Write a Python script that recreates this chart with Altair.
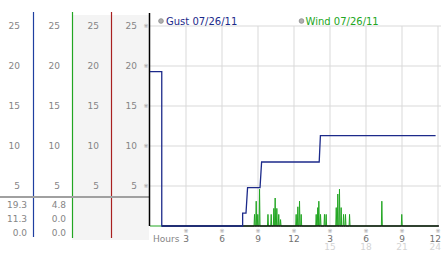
import altair as alt
import pandas as pd

# ---------------- data ----------------
tick_hours = [3, 6, 9, 12, 15, 18, 21, 24]
tick_top = ["3", "6", "9", "12", "3", "6", "9", "12"]
tick_bottom = ["", "", "", "", "15", "18", "21", "24"]
y_ticks = [5, 10, 15, 20, 25]

gust_hours = [0, 0.98, 0.98, 7.72, 7.72, 8.0, 8.13, 9.17, 9.3, 14.1, 14.2, 23.8]
gust_values = [19.3, 19.3, 0, 0, 1.6, 1.6, 4.8, 4.8, 8.0, 8.0, 11.3, 11.3]

wind_hours = [0,
              8.67, 8.71, 8.75, 8.81, 8.85, 8.89, 8.94, 8.98, 9.02, 9.09, 9.13, 9.17,
              9.79, 9.83, 9.87, 10.06, 10.10, 10.14, 10.28, 10.32, 10.36, 10.39, 10.43, 10.47,
              10.53, 10.57, 10.61, 10.69, 10.73, 10.77, 10.84, 10.88, 10.92,
              12.14, 12.18, 12.22, 12.28, 12.32, 12.36, 12.42, 12.46, 12.50, 12.56, 12.60, 12.64,
              13.81, 13.85, 13.89, 13.94, 13.98, 14.02, 14.03, 14.07, 14.11, 14.17, 14.21, 14.25,
              14.50, 14.54, 14.58, 14.64, 14.68, 14.72,
              15.48, 15.52, 15.56, 15.61, 15.65, 15.69, 15.75, 15.79, 15.83, 15.89, 15.93, 15.97,
              16.09, 16.13, 16.17, 16.25, 16.29, 16.33, 16.59, 16.63, 16.67,
              19.28, 19.32, 19.36, 20.94, 20.98, 21.02, 24]
wind_values = [0,
               0, 1.45, 0, 0, 3.1, 0, 0, 1.45, 0, 0, 4.6, 0,
               0, 1.45, 0, 0, 1.45, 0, 0, 2.2, 0, 0, 3.5, 0,
               0, 2.2, 0, 0, 1.45, 0, 0, 0.8, 0,
               0, 1.45, 0, 0, 2.4, 0, 0, 3.1, 0, 0, 1.45, 0,
               0, 1.45, 0, 0, 2.3, 0, 0, 3.1, 0, 0, 1.45, 0,
               0, 1.45, 0, 0, 1.45, 0,
               0, 2.3, 0, 0, 4.0, 0, 0, 4.6, 0, 0, 2.3, 0,
               0, 1.45, 0, 0, 1.45, 0, 0, 1.45, 0,
               0, 3.1, 0, 0, 1.45, 0, 0]

table_col1 = ["19.3", "11.3", "0.0"]
table_col2 = ["4.8", "0.0", "0.0"]

gust_label = "Gust 07/26/11"
wind_label = "Wind 07/26/11"

# ---------------- styles ----------------
FONT = "DejaVu Sans"
GREY_TXT = "#858585"
NAVY = "#1c2a8a"
GREEN = "#22a622"
BLUE = "#1f3fa0"
RED = "#a82020"
GRID = "#d9d9d9"

XS = alt.Scale(domain=[0, 24])
YS = alt.Scale(domain=[0, 26.625])

one = pd.DataFrame({"a": [0]})
gust_df = pd.DataFrame({"h": gust_hours, "v": gust_values, "i": range(len(gust_hours))})
wind_df = pd.DataFrame({"h": wind_hours, "v": wind_values, "i": range(len(wind_hours))})
yt_df = pd.DataFrame({"v": y_ticks, "t": [str(v) for v in y_ticks]})
xt_df = pd.DataFrame({"h": tick_hours, "top": tick_top, "bot": tick_bottom,
                      "y0": [0] * len(tick_hours), "y1": [25] * len(tick_hours)})
xt_main = xt_df[xt_df["h"] < 24]
xt_last = xt_df[xt_df["h"] == 24]

base_one = alt.Chart(one)

layers = []

# left column backgrounds
layers.append(base_one.mark_rect(color="#f4f4f4").encode(
    x=alt.value(-78), x2=alt.value(-1), y=alt.value(2), y2=alt.value(227)))

# horizontal gridlines
layers.append(alt.Chart(yt_df).mark_rule(color=GRID, strokeWidth=1).encode(
    y=alt.Y("v:Q", scale=YS, axis=None), x=alt.value(0), x2=alt.value(291)))

# vertical gridlines
layers.append(alt.Chart(xt_df).mark_rule(color=GRID, strokeWidth=1).encode(
    x=alt.X("h:Q", scale=XS, axis=None), y=alt.Y("y0:Q", scale=YS, axis=None), y2="y1:Q"))

# column separator lines
for xv, col, bottom in [(-116.5, BLUE, 224), (-77.5, GREEN, 225), (-38.5, RED, 225)]:
    layers.append(base_one.mark_rule(color=col, strokeWidth=1.2).encode(
        x=alt.value(xv), y=alt.value(-1), y2=alt.value(bottom)))

# grey separator above table
layers.append(base_one.mark_rule(color="#a0a0a0", strokeWidth=2).encode(
    x=alt.value(-150), x2=alt.value(-1), y=alt.value(184)))

# wind line
layers.append(alt.Chart(wind_df).mark_line(color=GREEN, strokeWidth=1, interpolate="linear").encode(
    x=alt.X("h:Q", scale=XS, axis=None), y=alt.Y("v:Q", scale=YS, axis=None), order="i:Q"))

# black axis lines
layers.append(base_one.mark_rule(color="#000000", strokeWidth=1.5).encode(
    x=alt.value(-0.5), y=alt.value(0), y2=alt.value(213)))
layers.append(base_one.mark_rule(color="#111111", strokeWidth=1.5).encode(
    x=alt.value(12), x2=alt.value(289), y=alt.value(213)))

# gust line
layers.append(alt.Chart(gust_df).mark_line(color=NAVY, strokeWidth=1.3, interpolate="linear").encode(
    x=alt.X("h:Q", scale=XS, axis=None), y=alt.Y("v:Q", scale=YS, axis=None), order="i:Q"))

# left column labels
for xv in [-130, -90, -51, -13]:
    layers.append(alt.Chart(yt_df).mark_text(font=FONT, fontSize=9, color=GREY_TXT,
                                             align="right", baseline="middle").encode(
        x=alt.value(xv), y=alt.Y("v:Q", scale=YS, axis=None), text="t:N"))

# y-axis tick glyphs
layers.append(alt.Chart(yt_df).mark_text(font=FONT, fontSize=6, color="#999999",
                                         align="center", baseline="middle").encode(
    x=alt.value(-4), y=alt.Y("v:Q", scale=YS, axis=None), text=alt.value("※")))

# table values
for r, (a, b) in enumerate(zip(table_col1, table_col2)):
    layers.append(base_one.mark_text(font=FONT, fontSize=9, color=GREY_TXT,
                                     align="right", baseline="middle").encode(
        x=alt.value(-123), y=alt.value(192 + 14 * r), text=alt.value(a)))
    layers.append(base_one.mark_text(font=FONT, fontSize=9, color=GREY_TXT,
                                     align="right", baseline="middle").encode(
        x=alt.value(-84), y=alt.value(192 + 14 * r), text=alt.value(b)))

# x tick glyphs and labels
layers.append(alt.Chart(xt_df).mark_text(font=FONT, fontSize=6, color="#999999",
                                         align="center", baseline="middle").encode(
    x=alt.X("h:Q", scale=XS, axis=None), y=alt.value(218), text=alt.value("※")))
layers.append(alt.Chart(xt_main).mark_text(font=FONT, fontSize=9, color="#707070",
                                           align="center", baseline="middle").encode(
    x=alt.X("h:Q", scale=XS, axis=None), y=alt.value(225.5), text="top:N"))
layers.append(alt.Chart(xt_main).mark_text(font=FONT, fontSize=9, color="#d4d4d4",
                                           align="center", baseline="middle").encode(
    x=alt.X("h:Q", scale=XS, axis=None), y=alt.value(234), text="bot:N"))
layers.append(alt.Chart(xt_last).mark_text(font=FONT, fontSize=9, color="#707070",
                                           align="right", baseline="middle", dx=3).encode(
    x=alt.X("h:Q", scale=XS, axis=None), y=alt.value(225.5), text="top:N"))
layers.append(alt.Chart(xt_last).mark_text(font=FONT, fontSize=9, color="#d4d4d4",
                                           align="right", baseline="middle", dx=3).encode(
    x=alt.X("h:Q", scale=XS, axis=None), y=alt.value(234), text="bot:N"))
layers.append(base_one.mark_text(font=FONT, fontSize=9, color=GREY_TXT,
                                 align="left", baseline="middle").encode(
    x=alt.value(3), y=alt.value(225.5), text=alt.value("Hours")))

# legend
for cx, tx, label, col in [(11, 16, gust_label, NAVY), (151.5, 155.5, wind_label, GREEN)]:
    layers.append(base_one.mark_point(filled=True, color="#b0b0b0", size=22,
                                      stroke="#888888", strokeWidth=0.8, opacity=1).encode(
        x=alt.value(cx), y=alt.value(8)))
    layers.append(base_one.mark_text(font=FONT, fontSize=10, color=col,
                                     align="left", baseline="middle").encode(
        x=alt.value(tx), y=alt.value(8.5), text=alt.value(label)))

chart = alt.layer(*layers).properties(
    width=288, height=213,
    autosize=alt.AutoSizeParams(type="none"),
    padding={"left": 150, "top": 13, "right": 4, "bottom": 27},
    background="white",
).configure_view(stroke=None)

chart.save("out.html", embed_options={"renderer": "svg", "actions": False})
